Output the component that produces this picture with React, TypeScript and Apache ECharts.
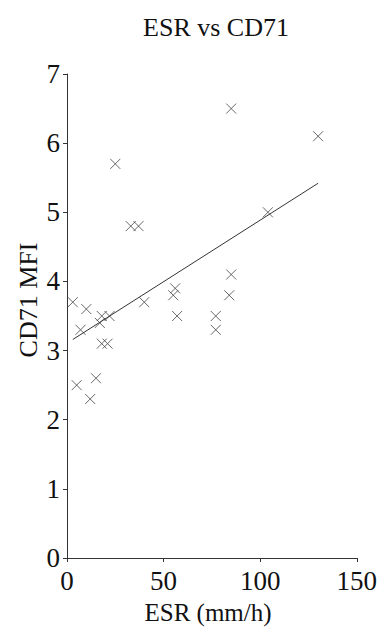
import React, { useEffect, useRef } from "react";
import * as echarts from "echarts";

const esr = [3, 5, 7, 10, 12, 15, 17, 18, 22, 18, 21, 25, 33, 37, 40, 55, 56, 57, 77, 77, 84, 85, 85, 104, 130];
const cd71 = [3.7, 2.5, 3.3, 3.6, 2.3, 2.6, 3.4, 3.5, 3.5, 3.1, 3.1, 5.7, 4.8, 4.8, 3.7, 3.8, 3.9, 3.5, 3.5, 3.3, 3.8, 4.1, 6.5, 5.0, 6.1];
const trendX = [3, 130];
const trendY = [3.16, 5.42];
const xTicks = [0, 50, 100, 150];
const yTicks = [0, 1, 2, 3, 4, 5, 6, 7];

const FONT = "'Liberation Serif', 'Times New Roman', serif";
const INK = "#333";

export default function App() {
  const ref = useRef<HTMLDivElement>(null);
  useEffect(() => {
    document.body.style.margin = "0";
    if (!ref.current) return;
    const chart = echarts.init(ref.current, undefined, { renderer: "svg" });
    chart.setOption({
      animation: false,
      backgroundColor: "#fff",
      title: {
        text: "ESR vs CD71",
        left: 211,
        top: 9,
        textAlign: "center",
        textStyle: { fontFamily: FONT, fontSize: 26, fontWeight: "normal", color: "#111" },
      },
      graphic: [
        {
          type: "text",
          x: 208,
          y: 612,
          style: {
            text: "ESR (mm/h)",
            fontFamily: FONT,
            fontSize: 25,
            fill: "#111",
            textAlign: "center",
            textVerticalAlign: "middle",
          },
        },
        {
          type: "text",
          x: 28,
          y: 300,
          rotation: Math.PI / 2,
          style: {
            text: "CD71 MFI",
            fontFamily: FONT,
            fontSize: 26,
            fill: "#111",
            textAlign: "center",
            textVerticalAlign: "middle",
          },
        },
      ],
      grid: { left: 67, right: 23, top: 74, bottom: 69, containLabel: false },
      xAxis: {
        type: "value",
        min: xTicks[0],
        max: xTicks[xTicks.length - 1],
        interval: 50,
        axisLine: { show: true, onZero: false, lineStyle: { color: INK, width: 1 } },
        axisTick: { show: true, length: 4, lineStyle: { color: INK } },
        axisLabel: { fontFamily: FONT, fontSize: 27, color: "#111", margin: 9 },
        splitLine: { show: false },
      },
      yAxis: {
        type: "value",
        min: yTicks[0],
        max: yTicks[yTicks.length - 1],
        interval: 1,
        axisLine: { show: true, lineStyle: { color: INK, width: 1 } },
        axisTick: { show: true, length: 4, lineStyle: { color: INK } },
        axisLabel: { fontFamily: FONT, fontSize: 27, color: "#111", margin: 7 },
        splitLine: { show: false },
      },
      series: [
        {
          type: "scatter",
          data: esr.map((x, i) => [x, cd71[i]]),
          symbol: "path://M0,0L10,10M10,0L0,10",
          symbolSize: 10,
          itemStyle: { color: "transparent", borderColor: "#444", borderWidth: 1 },
        },
        {
          type: "line",
          data: trendX.map((x, i) => [x, trendY[i]]),
          symbol: "none",
          lineStyle: { color: INK, width: 1 },
        },
      ],
    });
    return () => chart.dispose();
  }, []);
  return <div ref={ref} style={{ width: 380, height: 627 }} />;
}
